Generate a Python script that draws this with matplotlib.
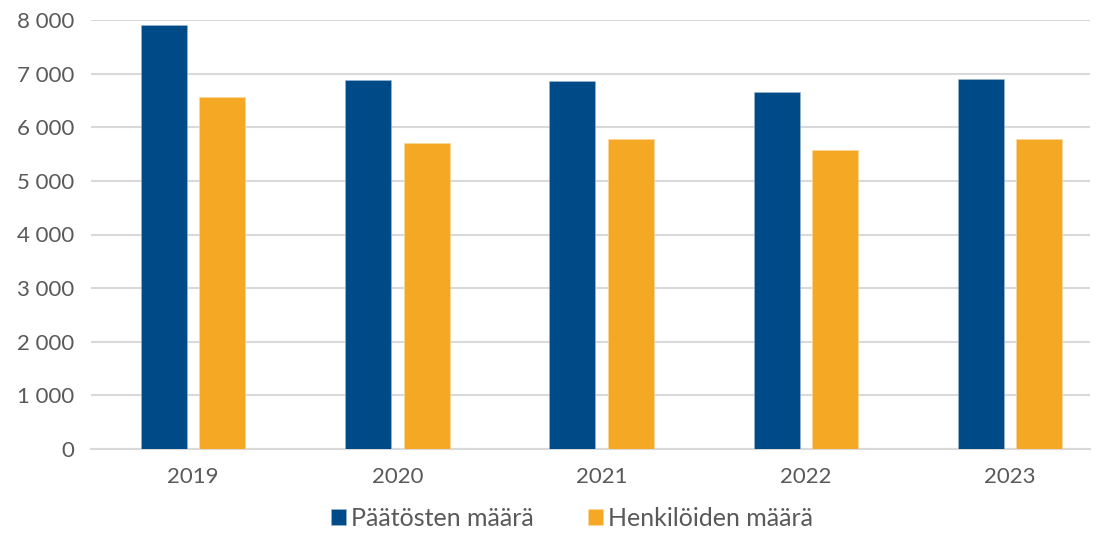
import numpy as np
import matplotlib.pyplot as plt

years = ['2019', '2020', '2021', '2022', '2023']
paatokset = [7900, 6890, 6870, 6660, 6900]
henkilot = [6570, 5710, 5785, 5575, 5790]
series_names = ['Päätösten määrä', 'Henkilöiden määrä']

blue = '#004a87'
orange = '#f5a823'
grey_text = '#595959'

plt.rcParams['font.family'] = ['Lato', 'DejaVu Sans']

fig = plt.figure(figsize=(11.02, 5.46), dpi=100)
ax = fig.add_axes([91 / 1102, 97 / 546, 999 / 1102, 429 / 546])

# category step in the picture is ~204 px, axis is 999 px wide
step = 204.25
x = np.arange(len(years))
w = 0.225
ax.bar(x - 0.143, paatokset, w, color=blue, label=series_names[0],
       edgecolor='#9fb9d6', linewidth=0.4, zorder=3)
ax.bar(x + 0.143, henkilot, w, color=orange, label=series_names[1],
       edgecolor='#fbd89a', linewidth=0.4, zorder=3)

ax.set_xlim(-0.5, -0.5 + 999 / step)
ax.set_ylim(0, 8000)
ax.set_yticks(range(0, 8001, 1000))
ax.set_yticklabels([f'{v:,}'.replace(',', ' ') for v in range(0, 8001, 1000)])
ax.set_xticks(x)
ax.set_xticklabels(years)

ax.grid(axis='y', color='#d9d9d9', linewidth=1.5, zorder=0)
for s in ['top', 'right', 'left']:
    ax.spines[s].set_visible(False)
ax.spines['bottom'].set_color('#d9d9d9')
ax.spines['bottom'].set_linewidth(1.5)

ax.tick_params(axis='both', length=0, labelsize=16, labelcolor=grey_text)
ax.tick_params(axis='y', pad=12)
ax.tick_params(axis='x', pad=13)

leg = fig.legend(loc='lower center', bbox_to_anchor=(0.519, -0.012), ncol=2,
                 frameon=False, fontsize=18, handlelength=0.6, handleheight=0.6,
                 handletextpad=0.2, columnspacing=2.2)
for t in leg.get_texts():
    t.set_color(grey_text)

fig.savefig('out.png', dpi=100)
